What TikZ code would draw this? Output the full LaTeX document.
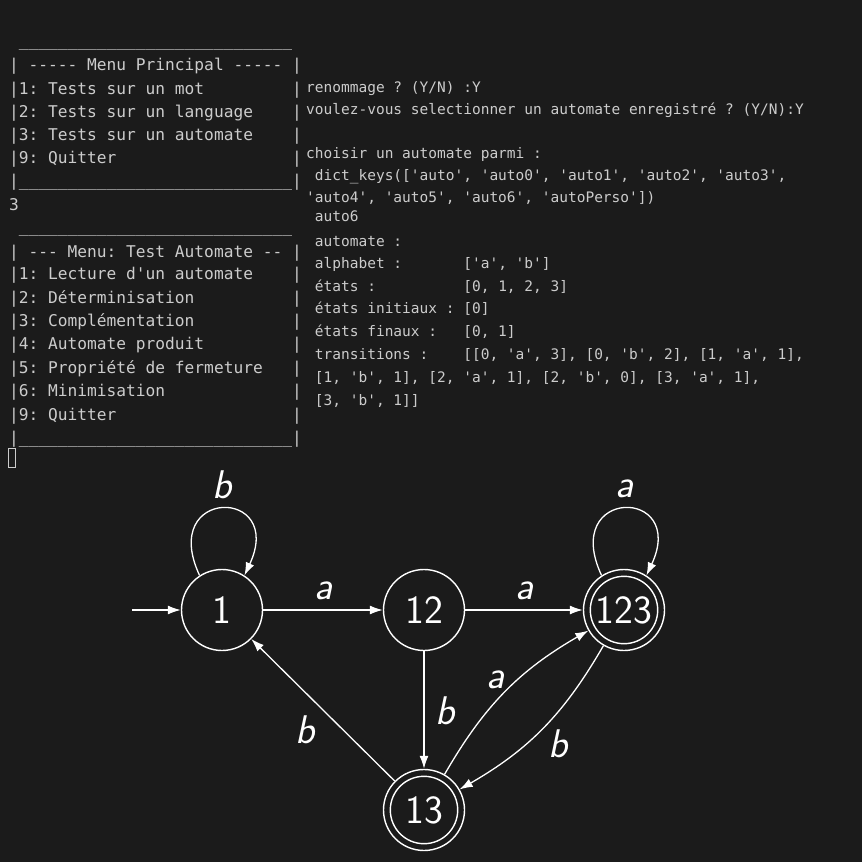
\documentclass[tikz,border=0pt]{standalone}
\usepackage{fontspec}
\newfontfamily\termfont{DejaVu Sans Mono}
\usetikzlibrary{arrows.meta}
\definecolor{bg}{HTML}{1B1B1B}
\definecolor{fg}{HTML}{CCCCCC}
\newcommand\gap[1]{\hspace*{#1\fontdimen2\font}}
\newcommand\uq{\_\_\_\_\_\_\_}
\newcommand\uline{\uq\uq\uq\uq}
\frenchspacing
\tikzset{
  lterm/.style={anchor=base west, inner sep=0, text=fg, font=\termfont\fontsize{16.2}{19}\selectfont},
  rterm/.style={anchor=base west, inner sep=0, text=fg, font=\termfont\fontsize{14.5}{17}\selectfont},
  stnode/.style={circle, draw=white, line width=1.4pt, minimum size=81pt, inner sep=0, text=white, font=\sffamily\fontsize{40}{48}\selectfont},
  accept/.style={path picture={\draw[white, line width=1.4pt] (path picture bounding box.center) circle (33.7pt);}},
  tedge/.style={draw=white, line width=1.3pt, -{Latex[length=13pt,width=9pt]}},
  lbl/.style={text=white, inner sep=0, font=\sffamily\itshape\fontsize{40}{48}\selectfont},
}
\begin{document}
\begin{tikzpicture}[x=1pt,y=-1pt]
\fill[bg] (0,0) rectangle (862,862);
\useasboundingbox (0,0) rectangle (862,862);
% ---- menu principal
\node[lterm] (m1r0) at (9,46) {\gap{1}\uline};
\node[lterm] (m1r1) at (9,70.5) {| ----- Menu Principal ----- |};
\node[lterm] (m1r2) at (9,94) {|1: Tests sur un mot\gap{9}|};
\node[lterm] (m1r3) at (9,117.2) {|2: Tests sur un language\gap{4}|};
\node[lterm] (m1r4) at (9,140.4) {|3: Tests sur un automate\gap{4}|};
\node[lterm] (m1r5) at (9,163.5) {|9: Quitter\gap{18}|};
\node[lterm] (m1r6) at (9,186.7) {|\uline|};
\node[lterm] (m1r7) at (9,210) {3};
% ---- menu test automate
\node[lterm] (m2r0) at (9,232) {\gap{1}\uline};
\node[lterm] (m2r1) at (9,257.5) {| --- Menu: Test Automate -- |};
\node[lterm] (m2r2) at (9,279.8) {|1: Lecture d'un automate\gap{4}|};
\node[lterm] (m2r3) at (9,303.1) {|2: Déterminisation\gap{10}|};
\node[lterm] (m2r4) at (9,326.5) {|3: Complémentation\gap{10}|};
\node[lterm] (m2r5) at (9,349.9) {|4: Automate produit\gap{9}|};
\node[lterm] (m2r6) at (9,373.2) {|5: Propriété de fermeture\gap{3}|};
\node[lterm] (m2r7) at (9,396.6) {|6: Minimisation\gap{13}|};
\node[lterm] (m2r8) at (9,420) {|9: Quitter\gap{18}|};
\node[lterm] (m2r9) at (9,443.3) {|\uline|};
\draw[fg, line width=1pt] (8.5,448.5) rectangle (15.5,467.5);
% ---- right column
\node[rterm] (t1) at (306,92.7) {renommage ? (Y/N) :Y};
\node[rterm] (t2) at (306,114.5) {voulez-vous selectionner un automate enregistré ? (Y/N):Y};
\node[rterm] (t3) at (306,158.5) {choisir un automate parmi :};
\node[rterm] (t4) at (306,180.7) {\gap{1}dict\_keys(['auto', 'auto0', 'auto1', 'auto2', 'auto3',};
\node[rterm] (t5) at (306,202.7) {'auto4', 'auto5', 'auto6', 'autoPerso'])};
\node[rterm] (t6) at (306,221.7) {\gap{1}auto6};
\node[rterm] (t7) at (306,246) {\gap{1}automate :};
\node[rterm] (t8) at (306,268.3) {\gap{1}alphabet :\gap{7}['a', 'b']};
\node[rterm] (t9) at (306,291) {\gap{1}états :\gap{10}[0, 1, 2, 3]};
\node[rterm] (t10) at (306,313.5) {\gap{1}états initiaux : [0]};
\node[rterm] (t11) at (306,336.5) {\gap{1}états finaux :\gap{3}[0, 1]};
\node[rterm] (t12) at (306,359.5) {\gap{1}transitions :\gap{4}[[0, 'a', 3], [0, 'b', 2], [1, 'a', 1],};
\node[rterm] (t13) at (306,382.5) {\gap{1}[1, 'b', 1], [2, 'a', 1], [2, 'b', 0], [3, 'a', 1],};
\node[rterm] (t14) at (306,405) {\gap{1}[3, 'b', 1]]};
% ---- automaton
\node[stnode] (n1) at (222,610) {1};
\node[stnode] (n12) at (424,610) {12};
\node[stnode, accept] (n123) at (624,610) {123};
\node[stnode, accept] (n13) at (424,810) {13};
\coordinate (init) at (132,610);
\draw[tedge] (init) -- (n1);
\draw[tedge] (n1.123) to[out=115,in=65,looseness=5.6] node[lbl, yshift=24.5pt] (lb1) {b} (n1.57);
\draw[tedge] (n123.123) to[out=115,in=65,looseness=5.6] node[lbl, yshift=20pt, xshift=1pt] (la3) {a} (n123.57);
\draw[tedge] (n1) -- node[lbl, yshift=19pt, xshift=0.5pt] (la1) {a} (n12);
\draw[tedge] (n12) -- node[lbl, yshift=19.2pt, xshift=0.7pt] (la2) {a} (n123);
\draw[tedge] (n12) -- node[lbl, xshift=21pt, yshift=-1pt] (lb2) {b} (n13);
\draw[tedge] (n13) -- node[lbl, xshift=-18pt, yshift=-20pt] (lb3) {b} (n1);
\draw[tedge] (n13) to[bend left=15] node[lbl, xshift=-10.4pt, yshift=11.7pt] (la4) {a} (n123);
\draw[tedge] (n123) to[bend left=15] node[lbl, xshift=16pt, yshift=-15.5pt] (lb4) {b} (n13);
\end{tikzpicture}
\end{document}
